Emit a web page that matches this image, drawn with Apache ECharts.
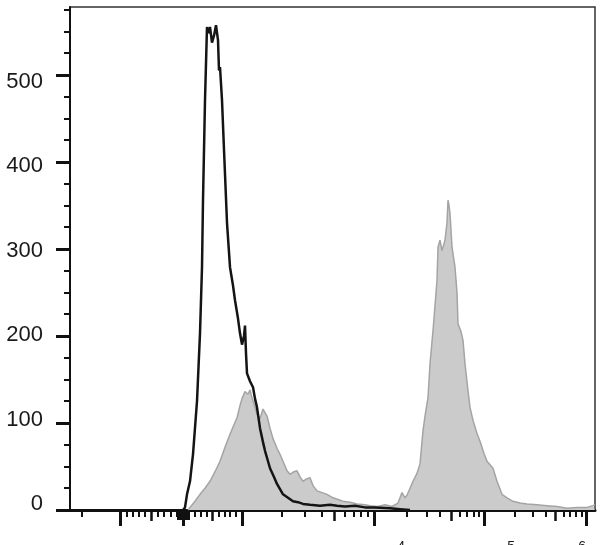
<!DOCTYPE html>
<html>
<head>
<meta charset="utf-8">
<script src="https://cdn.jsdelivr.net/npm/echarts@6/dist/echarts.min.js"></script>
<style>html,body{margin:0;padding:0;background:#fff}#chart{width:608px;height:545px}</style>
</head>
<body>
<div id="chart"></div>
<script>
// Display channel (0..1050 across the plot) and event counts
const controlChannel = [226,230,234,240,246,254,260,264,266,270,274,278,280,284,288,292,296,298,300,302,304,308,314,320,326,330,336,340,344,348,350,352,354,360,366,370,374,380,386,390,396,400,408,414,420,426,436,446,456,466,480,500,520,534,550,570,590,610,640,660,680];
const controlCount   = [0,3,18,33,64,125,203,279,356,471,555,548,555,537,545,557,540,505,509,490,471,414,330,279,258,241,220,203,190,200,212,180,157,148,141,128,118,94,78,68,56,48,38,30,24,18,14,10,9,7,6,5,6,5,4,5,3,3,2,1,0];

const stainedChannel = [236,240,250,260,270,280,290,300,310,320,328,334,340,344,350,356,360,364,370,374,380,386,390,394,400,406,414,420,426,434,440,448,454,460,466,474,480,486,494,504,514,526,536,546,560,574,590,600,616,630,644,656,664,670,674,680,686,694,700,706,710,716,720,726,730,734,736,740,744,750,754,756,758,760,764,770,774,776,782,786,790,796,800,806,814,820,828,834,840,846,854,864,874,886,900,914,934,954,974,994,1014,1034,1046,1050];
const stainedCount   = [0,3,10,18,25,33,44,56,72,87,98,106,120,128,136,133,138,129,118,110,105,116,117,108,94,82,71,64,56,45,41,44,45,38,33,36,37,28,22,20,18,14,12,10,9,7,6,5,4,6,4,8,20,14,17,25,33,42,53,91,108,129,168,206,235,264,302,310,298,310,330,356,350,341,302,279,250,214,205,195,168,137,118,103,88,79,65,56,52,48,33,18,14,10,8,7,6,5,4,2,3,3,5,6];

// Axis ticks (fluorescence values) and labels
const yMajorTicks = [0,100,200,300,400,500];
const yMinorTicks = [25,50,75,125,150,175,225,250,275,325,350,375,425,450,475,525,550,575];
const yLabels = [0,100,200,300,400,500];
const decadeValues   = [-2000,-1000,0,1000,10000,100000,1000000];
const decadeChannels = [24,100,226,344,608,828,1032];
const xMajorValues = [-1000,0,1000,10000,100000,1000000];
const xMediumValues = [-500,500,5000,50000,500000];
const xMinorValues = [-2000,-900,-800,-700,-600,-400,-300,-200,-100,100,200,300,400,600,700,800,900,
  2000,3000,4000,6000,7000,8000,9000,20000,30000,40000,60000,70000,80000,90000,
  200000,300000,400000,600000,700000,800000,900000];
const xNearZeroValues = [-90,-80,-70,-60,-50,-40,-30,-20,-10,10,20,30,40,50,60,70,80,90];
const xLabelValues = [10000,100000,1000000];
const xLabelExps = ['4','5','6'];

function toChannel(v){
  for (let i=0;i<decadeValues.length-1;i++){
    const a=decadeValues[i], b=decadeValues[i+1];
    if (v>=a && v<=b){
      const ca=decadeChannels[i], cb=decadeChannels[i+1];
      let t;
      if (a>=1000) t=(Math.log10(v)-Math.log10(a))/(Math.log10(b)-Math.log10(a));
      else if (b<=-1000) t=(Math.log10(-v)-Math.log10(-a))/(Math.log10(-b)-Math.log10(-a));
      else t=(v-a)/(b-a);
      return ca+t*(cb-ca);
    }
  }
  return null;
}

const labelChannels = xLabelValues.map(toChannel);
function labelFmt(val){
  let best=0, d=1e9;
  labelChannels.forEach((c,i)=>{ if(Math.abs(c-val)<d){d=Math.abs(c-val);best=i;} });
  return '{b|10}{s|'+xLabelExps[best]+'}';
}
const rich = {
  b:{fontSize:21,fontFamily:'Liberation Sans',color:'#1a1a1a',verticalAlign:'bottom',lineHeight:26},
  s:{fontSize:14,fontFamily:'Liberation Sans',color:'#1a1a1a',verticalAlign:'top',lineHeight:26}
};

function xBase(extra){
  const o = Object.assign({
    type:'value', min:0, max:1050, position:'bottom', offset:0,
    splitLine:{show:false}, axisLabel:{show:false}, axisTick:{show:false}
  }, extra);
  o.axisLine = Object.assign({show:false}, extra.axisLine||{}, {onZero:false});
  return o;
}
function yBase(extra){
  const o = Object.assign({
    type:'value', min:0, max:578, position:'left', offset:0,
    splitLine:{show:false}, axisLabel:{show:false}, axisTick:{show:false}
  }, extra);
  o.axisLine = Object.assign({show:false}, extra.axisLine||{}, {onZero:false});
  return o;
}

const option = {
  animation:false,
  backgroundColor:'#fff',
  grid:{left:70,right:13,top:7,bottom:35,containLabel:false,outerBoundsMode:'none',
        show:true,borderColor:'#333',borderWidth:1.5,backgroundColor:'transparent'},
  xAxis:[
    xBase({
      axisLine:{show:true,lineStyle:{color:'#111',width:3}},
      axisTick:{show:true,inside:false,length:16,customValues:xMajorValues.map(toChannel),lineStyle:{color:'#111',width:3}},
      axisLabel:{show:true,customValues:labelChannels.slice(0,2),align:'left',margin:30,formatter:labelFmt,rich:rich}
    }),
    xBase({axisTick:{show:true,length:11,customValues:xMediumValues.map(toChannel),lineStyle:{color:'#111',width:2.5}}}),
    xBase({axisTick:{show:true,length:7,customValues:xMinorValues.map(toChannel),lineStyle:{color:'#111',width:2}}}),
    xBase({axisTick:{show:true,length:10,customValues:xNearZeroValues.map(toChannel),lineStyle:{color:'#111',width:2}}}),
    xBase({axisLabel:{show:true,customValues:labelChannels.slice(2),align:'right',margin:30,formatter:labelFmt,rich:rich}})
  ],
  yAxis:[
    yBase({axisLine:{show:true,lineStyle:{color:'#111',width:2}},
     axisTick:{show:true,length:14,customValues:yMajorTicks,lineStyle:{color:'#111',width:3}}}),
    yBase({axisTick:{show:true,length:6,customValues:yMinorTicks,lineStyle:{color:'#111',width:2}}}),
    yBase({min:-7.1,max:588.9,
     axisLabel:{show:true,customValues:yLabels,margin:27,fontSize:22,fontFamily:'Liberation Sans',color:'#1a1a1a'}})
  ],
  series:[
    {type:'line',name:'stained',xAxisIndex:0,yAxisIndex:0,showSymbol:false,z:2,
     data:stainedChannel.map((c,i)=>[c,stainedCount[i]]),
     lineStyle:{color:'#a4a4a4',width:1.5},
     areaStyle:{color:'#cbcbcb',opacity:1}},
    {type:'line',name:'control',xAxisIndex:0,yAxisIndex:0,showSymbol:false,z:3,
     data:controlChannel.map((c,i)=>[c,controlCount[i]]),
     lineStyle:{color:'#141414',width:2.5}}
  ]
};
const chart = echarts.init(document.getElementById('chart'),null,{renderer:'canvas'});
chart.setOption(option);
</script>
</body>
</html>
